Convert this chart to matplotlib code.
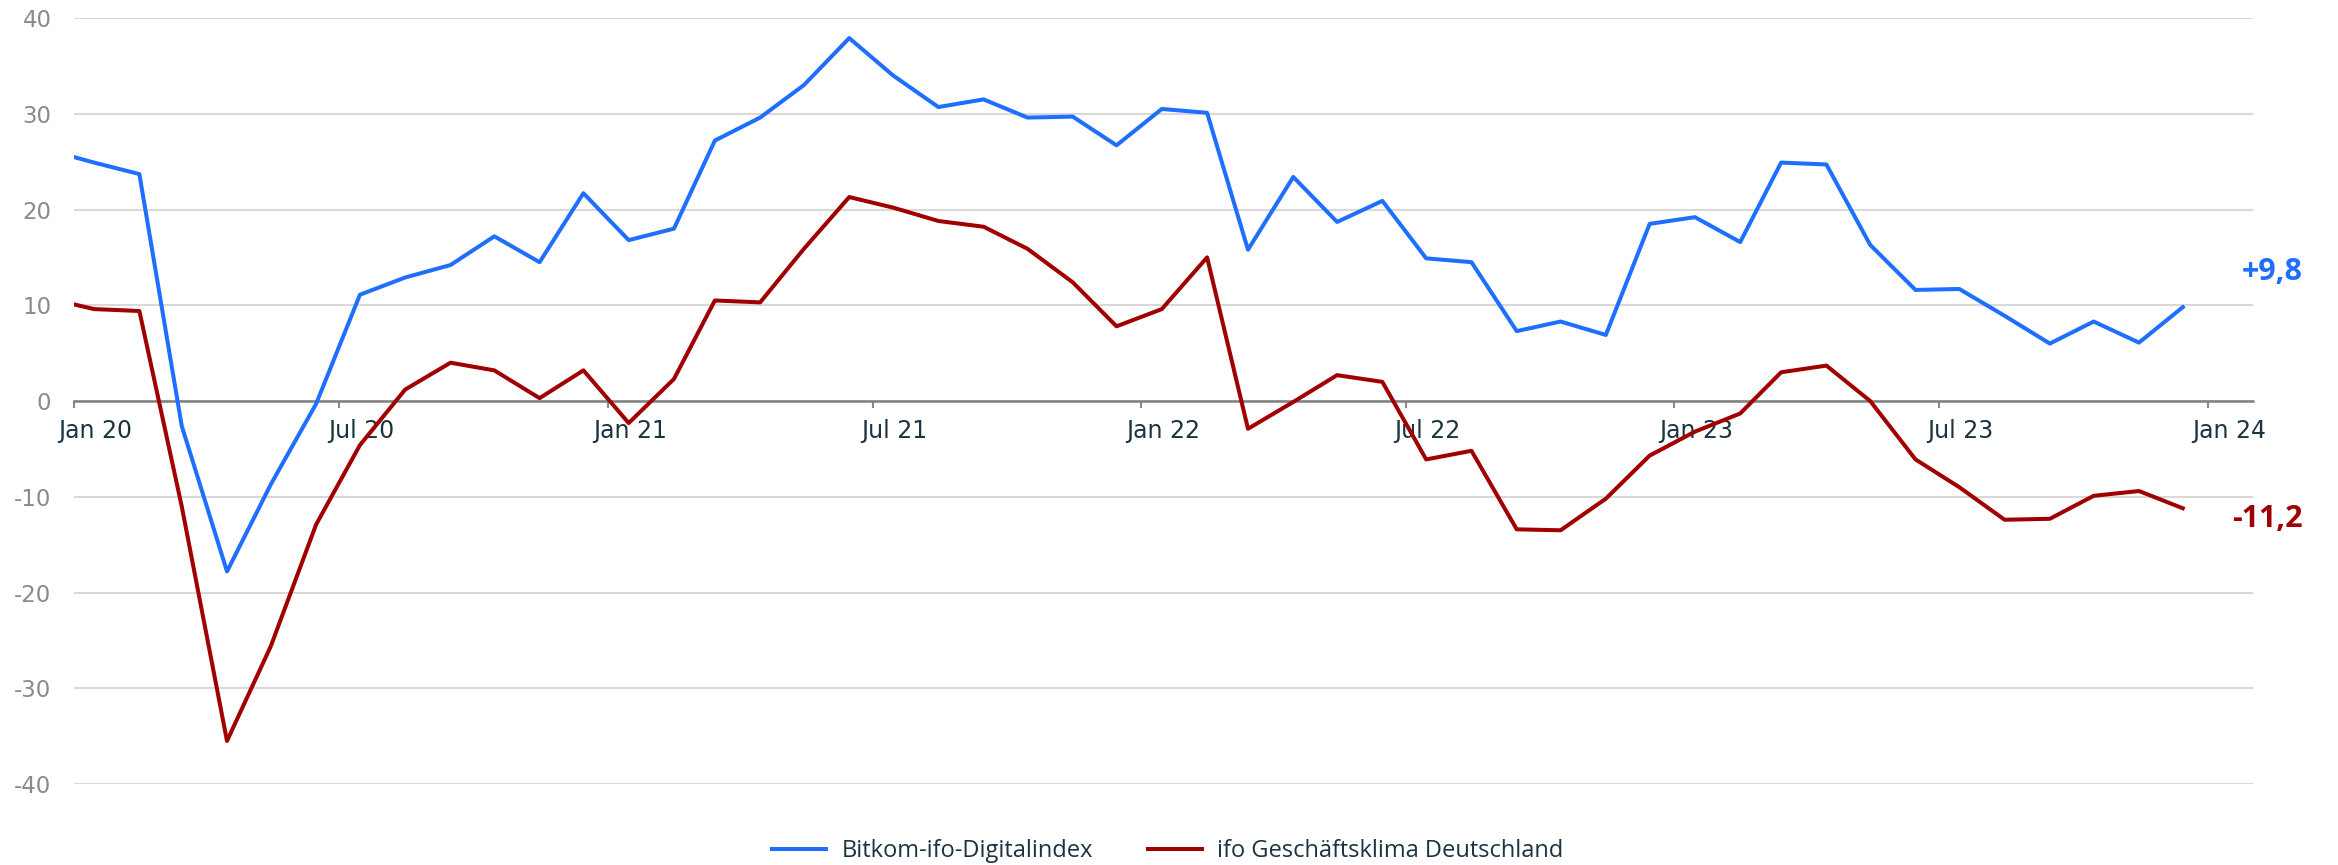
"""Bitkom-ifo-Digitalindex vs. ifo Geschaeftsklima Deutschland, monthly."""

import matplotlib
import matplotlib.dates as mdates
import matplotlib.pyplot as plt
import pandas as pd

matplotlib.use("Agg")
plt.rcParams["axes.unicode_minus"] = False

# monthly values, Dec 2019 .. Dec 2023 (Dec 2019 only feeds the clipped first segment)
months = pd.date_range("2019-12-01", periods=49, freq="MS") + pd.Timedelta(days=14)

digitalindex = [
    26.2,
    24.9, 23.7, -2.6, -17.8, -8.7, -0.3, 11.1, 12.9, 14.2, 17.2, 14.5, 21.7,
    16.8, 18.0, 27.2, 29.6, 33.0, 37.9, 34.0, 30.7, 31.5, 29.6, 29.7, 26.7,
    30.5, 30.1, 15.8, 23.4, 18.7, 20.9, 14.9, 14.5, 7.3, 8.3, 6.9, 18.5,
    19.2, 16.6, 24.9, 24.7, 16.3, 11.6, 11.7, 8.9, 6.0, 8.3, 6.1, 9.8,
]
geschaeftsklima = [
    10.7,
    9.6, 9.4, -11.0, -35.5, -25.6, -12.9, -4.6, 1.2, 4.0, 3.2, 0.3, 3.2,
    -2.3, 2.3, 10.5, 10.3, 15.9, 21.3, 20.2, 18.8, 18.2, 15.9, 12.4, 7.8,
    9.6, 15.0, -2.9, -0.1, 2.7, 2.0, -6.1, -5.2, -13.4, -13.5, -10.2, -5.7,
    -3.2, -1.3, 3.0, 3.7, 0.0, -6.1, -9.0, -12.4, -12.3, -9.9, -9.4, -11.2,
]

series_names = ["Bitkom-ifo-Digitalindex", "ifo Geschäftsklima Deutschland"]
series_colors = ["#1f6fff", "#a00000"]
end_labels = ["+9,8", "-11,2"]
end_label_offsets = [25, -8]  # points, vertical

y_ticks = list(range(-40, 41, 10))

BLUE_GREY_TEXT = "#1c3440"
GRID = "#d9d9d9"


def main() -> None:
    fig = plt.figure(figsize=(23.38, 8.65), dpi=100)
    ax = fig.add_axes([0.0315, 0.0936, 0.9321, 0.8856])

    for values, name, color, label, dy in zip(
        [digitalindex, geschaeftsklima], series_names, series_colors, end_labels, end_label_offsets
    ):
        ax.plot(months, values, color=color, linewidth=2.9, label=name, zorder=3)
        ax.annotate(
            label,
            xy=(months[-1], values[-1]),
            xytext=(86.5, dy),
            textcoords="offset points",
            ha="right",
            va="center",
            color=color,
            fontsize=22,
            fontweight="bold",
            family="Open Sans",
            annotation_clip=False,
        )

    ax.set_xlim(pd.Timestamp("2020-01-01"), pd.Timestamp("2024-02-01"))
    ax.set_ylim(-40, 40)
    ax.set_yticks(y_ticks)
    ax.yaxis.grid(True, color=GRID, linewidth=1.5)
    ax.tick_params(axis="y", length=0, pad=16, labelsize=16.5, labelcolor="#8a8a8a")

    ax.xaxis.set_major_locator(mdates.MonthLocator(bymonth=(1, 7), bymonthday=1))
    ax.xaxis.set_major_formatter(plt.NullFormatter())
    ax.xaxis.set_minor_locator(mdates.MonthLocator(bymonth=(1, 7), bymonthday=16))
    ax.xaxis.set_minor_formatter(mdates.DateFormatter("%b %y"))
    ax.tick_params(axis="x", which="major", length=5, width=1.5, color="#8a8a8a")
    ax.tick_params(axis="x", which="minor", length=0, pad=13, labelsize=17,
                   labelcolor=BLUE_GREY_TEXT)

    for side in ("top", "right", "left"):
        ax.spines[side].set_visible(False)
    ax.spines["bottom"].set_position(("data", 0))
    ax.spines["bottom"].set_color("#808080")
    ax.spines["bottom"].set_linewidth(1.8)

    legend = fig.legend(
        loc="center",
        bbox_to_anchor=(0.4995, 1 - 851 / 865),
        ncol=2,
        frameon=False,
        prop={"family": "Open Sans", "size": 17},
        handlelength=2.3,
        handletextpad=0.65,
        columnspacing=2.3,
    )
    for text in legend.get_texts():
        text.set_color(BLUE_GREY_TEXT)

    fig.savefig("out.png", dpi=100, facecolor="white")
    plt.close(fig)


if __name__ == "__main__":
    main()
